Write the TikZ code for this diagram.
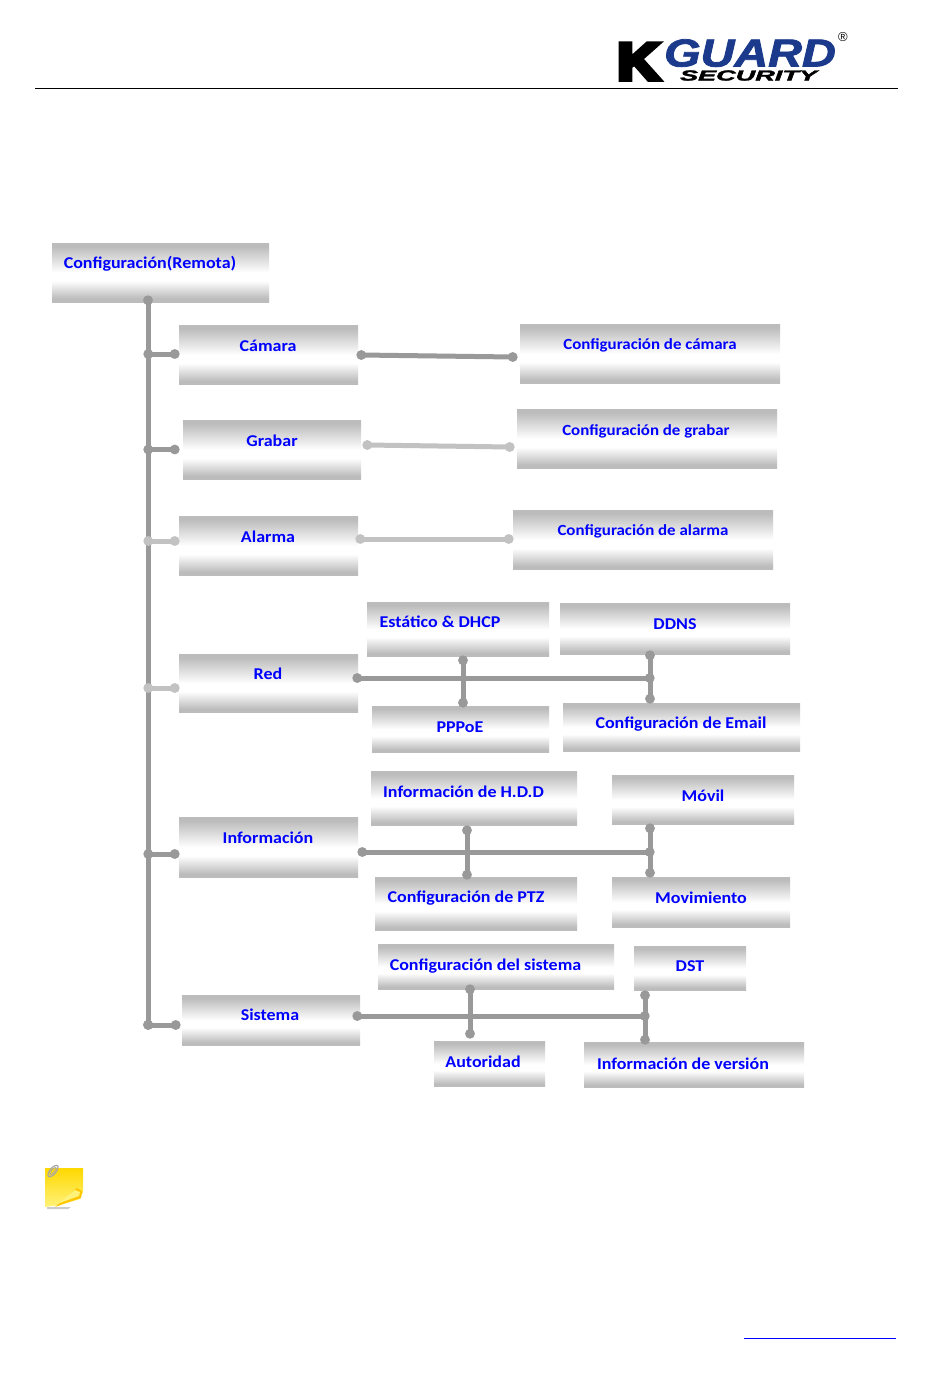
\documentclass[tikz,border=0pt]{standalone}
\usepackage{fontspec}
\setmainfont[FakeStretch=1.09]{Carlito}
\newfontfamily\logofont[BoldItalicFeatures={FakeBold=2}]{Liberation Sans}
\newfontfamily\logokfont[BoldFeatures={FakeBold=9}]{Liberation Sans}
\usetikzlibrary{arrows.meta}
\definecolor{boxgray}{HTML}{BCBCBC}
\definecolor{linkdark}{HTML}{999999}
\definecolor{linklight}{HTML}{C2C2C2}
\definecolor{logoblue}{HTML}{1B3A8C}
\definecolor{notelight}{HTML}{FFF27A}
\definecolor{notedark}{HTML}{FFD800}
\pgfdeclareverticalshading{boxshade}{100bp}{color(0bp)=(boxgray); color(28bp)=(boxgray); color(43bp)=(white); color(50bp)=(white); color(72bp)=(boxgray); color(100bp)=(boxgray)}
\tikzset{
  boxnode/.style={rectangle,inner sep=0pt,shading=boxshade},
  boxtext/.style={text=blue,inner sep=0pt,yshift=-1pt,text height=11pt,text depth=0pt,font=\fontsize{16.5}{18}\selectfont\bfseries},
  boxsmall/.style={boxtext,font=\fontsize{15.5}{18}\selectfont\bfseries},
  link/.style={draw=linkdark,line width=5pt,shorten <=-4.5pt,shorten >=-4.5pt,{Circle[length=9.5pt,width=9.5pt]}-{Circle[length=9.5pt,width=9.5pt]}},
  linkpale/.style={link,draw=linklight},
}
\begin{document}
\begin{tikzpicture}[x=1pt,y=-1pt]
\useasboundingbox (0,0) rectangle (950,1379);
\fill[white] (0,0) rectangle (950,1379);
% header
\coordinate (ruleL) at (35,88);
\coordinate (ruleR) at (898,88);
\draw[line width=1pt] (ruleL) -- (ruleR);
\node[anchor=base,inner sep=0pt,font=\logokfont\bfseries\fontsize{52}{52}\selectfont,xscale=1.12] (logoK) at (638.5,79.5) {K};
\node[anchor=base,inner sep=0pt,text=logoblue,font=\logofont\bfseries\itshape\fontsize{39}{39}\selectfont,xscale=1.2] (logoG) at (750,66.5) {GUARD};
\node[anchor=base,inner sep=0pt,font=\logofont\bfseries\itshape\fontsize{14.5}{15}\selectfont,xscale=1.87] (logoS) at (748.5,80.5) {SECURITY};
\node[inner sep=0pt,font=\logofont\fontsize{13}{13}\selectfont] (logoR) at (843,37) {®};
% boxes
\node[boxnode,minimum width=217pt,minimum height=59pt] (root) at (160.5,272.5) {};
\node[boxnode,minimum width=179pt,minimum height=59.5pt] (camara) at (268.5,354.8) {};
\node[boxnode,minimum width=260pt,minimum height=59.5pt] (cfgcamara) at (650,353.8) {};
\node[boxnode,minimum width=178pt,minimum height=59.5pt] (grabar) at (272,449.8) {};
\node[boxnode,minimum width=260pt,minimum height=59.5pt] (cfggrabar) at (647,438.8) {};
\node[boxnode,minimum width=179pt,minimum height=59.5pt] (alarma) at (268.5,545.8) {};
\node[boxnode,minimum width=260pt,minimum height=59.5pt] (cfgalarma) at (643,539.8) {};
\node[boxnode,minimum width=182pt,minimum height=54.5pt] (dhcp) at (458,629.3) {};
\node[boxnode,minimum width=230pt,minimum height=51.5pt] (ddns) at (675,628.8) {};
\node[boxnode,minimum width=179pt,minimum height=58.5pt] (red) at (268.5,683.3) {};
\node[boxnode,minimum width=177pt,minimum height=46.5pt] (pppoe) at (460.5,729.3) {};
\node[boxnode,minimum width=237pt,minimum height=48.5pt] (email) at (681.5,727.3) {};
\node[boxnode,minimum width=206pt,minimum height=54.5pt] (hdd) at (474,798.3) {};
\node[boxnode,minimum width=182pt,minimum height=49.5pt] (movil) at (703,799.8) {};
\node[boxnode,minimum width=179pt,minimum height=60.5pt] (info) at (268.5,847.3) {};
\node[boxnode,minimum width=202pt,minimum height=53.5pt] (ptz) at (476,903.8) {};
\node[boxnode,minimum width=178pt,minimum height=50.5pt] (movim) at (701,902.3) {};
\node[boxnode,minimum width=178pt,minimum height=50.5pt] (sistema) at (271,1020.3) {};
\node[boxnode,minimum width=236pt,minimum height=45.5pt] (cfgsis) at (496,966.8) {};
\node[boxnode,minimum width=112pt,minimum height=44.5pt] (dst) at (690,968.3) {};
\node[boxnode,minimum width=111pt,minimum height=45.5pt] (autor) at (489.5,1063.8) {};
\node[boxnode,minimum width=220pt,minimum height=45.5pt] (version) at (694,1064.8) {};
% labels
\node[boxtext] (rootT) at (150,261.5) {Configuración(Remota)};
\node[boxtext] (camaraT) at (268,345) {Cámara};
\node[boxsmall] (cfgcamaraT) at (650,343) {Configuración de cámara};
\node[boxtext] (grabarT) at (272,439.5) {Grabar};
\node[boxsmall] (cfggrabarT) at (646,429) {Configuración de grabar};
\node[boxtext] (alarmaT) at (268,535.5) {Alarma};
\node[boxsmall] (cfgalarmaT) at (643,529) {Configuración de alarma};
\node[boxtext] (dhcpT) at (440,621) {Estático \& DHCP};
\node[boxtext] (ddnsT) at (675,623) {DDNS};
\node[boxtext] (redT) at (268,673) {Red};
\node[boxtext] (pppoeT) at (460,726) {PPPoE};
\node[boxtext] (emailT) at (681,722) {Configuración de Email};
\node[boxtext] (hddT) at (463.5,791) {Información de H.D.D};
\node[boxtext] (movilT) at (703,795) {Móvil};
\node[boxtext] (infoT) at (268,837) {Información};
\node[boxtext] (ptzT) at (466,896) {Configuración de PTZ};
\node[boxtext] (movimT) at (701,897) {Movimiento};
\node[boxtext] (sistemaT) at (270,1014) {Sistema};
\node[boxtext] (cfgsisT) at (485.5,964) {Configuración del sistema};
\node[boxtext] (dstT) at (690,965) {DST};
\node[boxtext] (autorT) at (483,1061) {Autoridad};
\node[boxtext] (versionT) at (683,1063) {Información de versión};
% connector ends
\coordinate (trunkA) at (148,300);
\coordinate (trunkB) at (148,1025);
\coordinate (j1) at (148,354);
\coordinate (j2) at (148,449.5);
\coordinate (j3) at (148,541);
\coordinate (j4) at (148,688);
\coordinate (j5) at (148,854);
\coordinate (b1) at (175,354);
\coordinate (b2) at (175,449.5);
\coordinate (b3) at (175,541);
\coordinate (b4) at (175,688);
\coordinate (b5) at (175,854);
\coordinate (b6) at (176,1025);
\draw[link] (trunkA) -- (trunkB);
\draw[link] (j1) -- (b1);
\draw[link] (j2) -- (b2);
\draw[linkpale] (j3) -- (b3);
\draw[linkpale] (j4) -- (b4);
\draw[link] (j5) -- (b5);
\draw[link] (trunkB) -- (b6);
% first level
\coordinate (c1a) at (361,355);
\coordinate (c1b) at (513,357);
\coordinate (c2a) at (367,445);
\coordinate (c2b) at (510,447);
\coordinate (c3a) at (360,539);
\coordinate (c3b) at (509,539);
\draw[link] (c1a) -- (c1b);
\draw[linkpale] (c2a) -- (c2b);
\draw[linkpale] (c3a) -- (c3b);
% red
\coordinate (r0) at (357,678);
\coordinate (r1) at (650,678);
\coordinate (r2a) at (463,660);
\coordinate (r2b) at (463,703);
\coordinate (r3a) at (650,655);
\coordinate (r3b) at (650,699);
\draw[link] (r0) -- (r1);
\draw[link] (r2a) -- (r2b);
\draw[link] (r3a) -- (r3b);
% informacion
\coordinate (i0) at (362,852);
\coordinate (i1) at (650,852);
\coordinate (i2a) at (467,830);
\coordinate (i2b) at (467,875);
\coordinate (i3a) at (650,828);
\coordinate (i3b) at (650,873);
\draw[link] (i0) -- (i1);
\draw[link] (i2a) -- (i2b);
\draw[link] (i3a) -- (i3b);
% sistema
\coordinate (s0) at (357,1016);
\coordinate (s1) at (645,1016);
\coordinate (s2a) at (470,989);
\coordinate (s2b) at (470,1034);
\coordinate (s3a) at (645,995);
\coordinate (s3b) at (645,1040);
\draw[link] (s0) -- (s1);
\draw[link] (s2a) -- (s2b);
\draw[link] (s3a) -- (s3b);
% note icon
\fill[gray!40] (47,1207) -- (71,1207) -- (68,1209) -- (47,1209) -- cycle;
\shade[top color=notedark,bottom color=notelight] (45,1168) -- (83,1168) -- (83,1192) -- (80,1199) -- (60,1205) -- (45,1207) -- cycle;
\fill[notedark!80!orange] (55,1207) -- (77,1188) -- (82,1191) -- (81,1198) -- (66,1203) -- cycle;
\fill[notelight] (57,1204) -- (75,1190) -- (80,1192) -- (79,1196) -- cycle;
\draw[gray!70,line width=1.2pt,rotate around={50:(53,1171)}] (53,1171) ellipse (7 and 3);
\draw[gray!70,line width=.8pt,rotate around={50:(53,1171)}] (53,1171) ellipse (4.5 and 1.5);
% footer
\coordinate (footL) at (744,1338);
\coordinate (footR) at (896,1338);
\draw[blue,line width=1pt] (footL) -- (footR);
\end{tikzpicture}
\end{document}
